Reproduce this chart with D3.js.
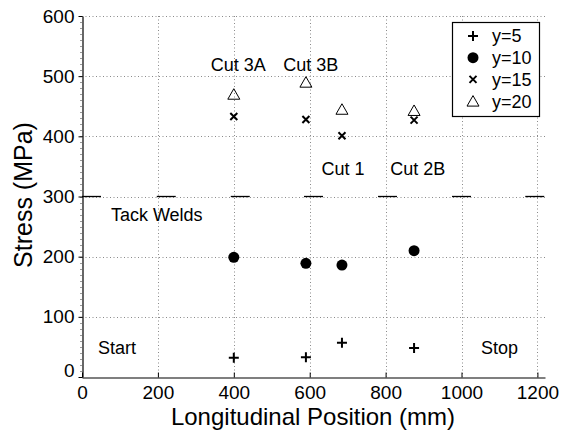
<!DOCTYPE html>
<html>
<head>
<meta charset="utf-8">
<script src="https://cdn.jsdelivr.net/npm/d3@7"></script>
<style>
  body { margin: 0; background: #fff; }
  text { font-family: "Liberation Sans", Arial, Helvetica, sans-serif; fill: #000; }
</style>
</head>
<body>
<div id="chart"></div>
<script>
// measured positions (mm) and stress (MPa) per depth
var positions = [400, 590, 685, 875];
var stressY5 = [32, 33, 57, 48];
var stressY10 = [199, 189, 186, 210];
var stressY15 = [433, 428, 401, 427];
var stressY20 = [470, 490, 445, 443];
var seriesNames = ['y=5', 'y=10', 'y=15', 'y=20'];

var tackWeldStarts = [0, 197, 392, 585, 780, 975, 1168];
var tackWeldLength = 50;
var tackWeldStress = 300;

var xTicks = [0, 200, 400, 600, 800, 1000, 1200];
var yTicks = [0, 100, 200, 300, 400, 500, 600];

var notes = [
  {text: 'Cut 3A', x: 412, y: 509},
  {text: 'Cut 3B', x: 603, y: 509},
  {text: 'Cut 1', x: 688, y: 336},
  {text: 'Cut 2B', x: 885, y: 336},
  {text: 'Tack Welds', x: 197, y: 259},
  {text: 'Start', x: 92, y: 39},
  {text: 'Stop', x: 1100, y: 38}
];

var width = 563, height = 434;
var plotLeft = 82, plotRight = 545, plotTop = 16, plotBottom = 377;

var svg = d3.select('#chart').append('svg')
  .attr('width', width)
  .attr('height', height)
  .attr('viewBox', '0 0 ' + width + ' ' + height);

svg.append('rect').attr('width', width).attr('height', height).attr('fill', '#fff');

var x = d3.scaleLinear().domain([0, 1220]).range([plotLeft, plotRight]);
var y = d3.scaleLinear().domain([0, 600]).range([plotBottom, plotTop]);

// grid
var grid = svg.append('g').attr('stroke', '#8a8a8a').attr('stroke-width', 1).attr('stroke-dasharray', '1,2.5');
grid.selectAll('.vg').data(xTicks.slice(1)).enter().append('line')
  .attr('x1', function(d) { return Math.round(x(d)) + 0.5; })
  .attr('x2', function(d) { return Math.round(x(d)) + 0.5; })
  .attr('y1', plotTop).attr('y2', plotBottom);
grid.selectAll('.hg').data(yTicks.slice(1)).enter().append('line')
  .attr('y1', function(d) { return Math.round(y(d)) + 0.5; })
  .attr('y2', function(d) { return Math.round(y(d)) + 0.5; })
  .attr('x1', plotLeft).attr('x2', plotRight);

// minor ticks on y
svg.append('g').selectAll('line').data(d3.range(0, 601, 10)).enter().append('line')
  .attr('x1', plotLeft - 2).attr('x2', plotLeft)
  .attr('y1', function(d) { return Math.round(y(d)) + 0.5; })
  .attr('y2', function(d) { return Math.round(y(d)) + 0.5; })
  .attr('stroke', '#555').attr('stroke-width', 0.6);

// axes
var xAxis = svg.append('g')
  .attr('transform', 'translate(0,' + (plotBottom + 0.5) + ')')
  .call(d3.axisBottom(x).tickValues(xTicks).tickFormat(d3.format('d'))
    .tickSize(-5).tickSizeOuter(0).tickPadding(8));
var yAxis = svg.append('g')
  .attr('transform', 'translate(' + (plotLeft + 0.5) + ',0)')
  .call(d3.axisLeft(y).tickValues(yTicks).tickFormat(d3.format('d'))
    .tickSize(4).tickSizeOuter(0).tickPadding(4));

[xAxis, yAxis].forEach(function(a) {
  a.attr('font-family', null).attr('font-size', null);
  a.select('.domain').attr('stroke', '#000').attr('stroke-width', 1.2);
  a.selectAll('.tick line').attr('stroke', '#000');
  a.selectAll('.tick text').style('font-size', '19px');
});
yAxis.selectAll('.tick text').filter(function(d) { return d === 0; }).attr('dy', '-0.05em');

// axis labels
svg.append('text')
  .attr('x', 313).attr('y', 425)
  .attr('text-anchor', 'middle')
  .style('font-size', '24px')
  .text('Longitudinal Position (mm)');
svg.append('text')
  .attr('transform', 'translate(32,' + 195 + ')rotate(-90)')
  .attr('text-anchor', 'middle')
  .style('font-size', '25px')
  .text('Stress (MPa)');

// tack welds
svg.append('g').selectAll('line').data(tackWeldStarts).enter().append('line')
  .attr('x1', function(d) { return x(d); })
  .attr('x2', function(d) { return x(d + tackWeldLength); })
  .attr('y1', y(tackWeldStress)).attr('y2', y(tackWeldStress))
  .attr('stroke', '#000').attr('stroke-width', 1.3);

// marker shapes
var markers = [
  {d: 'M-5,0H5M0,-5V5', fill: 'none', stroke: 2},
  {circle: true},
  {d: 'M-3.5,-3.5L3.5,3.5M-3.5,3.5L3.5,-3.5', fill: 'none', stroke: 2},
  {d: 'M0,-5.5L6,5L-6,5Z', fill: 'none', stroke: 1}
];

function drawMarker(g, m) {
  if (m.circle) {
    g.append('circle').attr('r', 5.5).attr('fill', '#000');
  } else {
    g.append('path').attr('d', m.d).attr('fill', m.fill)
      .attr('stroke', '#000').attr('stroke-width', m.stroke);
  }
}

var allSeries = [stressY5, stressY10, stressY15, stressY20];
allSeries.forEach(function(vals, si) {
  var pts = svg.append('g').selectAll('g').data(vals).enter().append('g')
    .attr('transform', function(d, i) { return 'translate(' + x(positions[i]) + ',' + y(d) + ')'; });
  pts.each(function() { drawMarker(d3.select(this), markers[si]); });
});

// annotations
svg.append('g').selectAll('text').data(notes).enter().append('text')
  .attr('x', function(d) { return x(d.x); })
  .attr('y', function(d) { return y(d.y); })
  .attr('text-anchor', 'middle')
  .style('font-size', '18px')
  .text(function(d) { return d.text; });

// legend
var legend = svg.append('g').attr('transform', 'translate(452,22)');
legend.append('rect').attr('x', 0.5).attr('y', 0.5).attr('width', 87).attr('height', 94)
  .attr('fill', '#fff').attr('stroke', '#000').attr('stroke-width', 1.2);
seriesNames.forEach(function(name, i) {
  var row = legend.append('g').attr('transform', 'translate(0,' + (14 + i * 21.7) + ')');
  var mk = row.append('g').attr('transform', 'translate(21,0)');
  drawMarker(mk, markers[i]);
  row.append('text').attr('x', 40).attr('y', 0).attr('dy', '0.36em')
    .style('font-size', '18px').text(name);
});
</script>
</body>
</html>
